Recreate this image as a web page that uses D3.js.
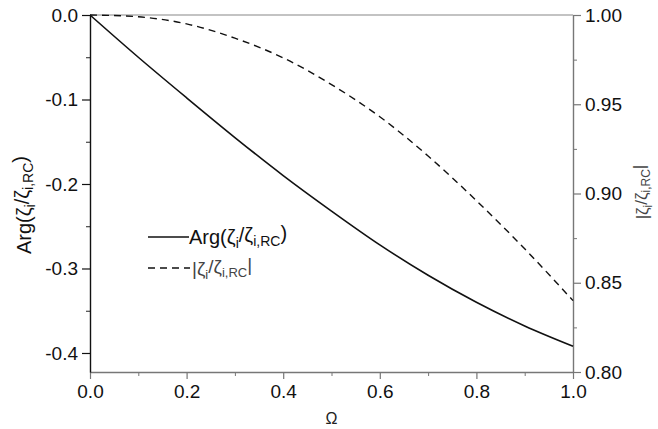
<!DOCTYPE html>
<html>
<head>
<meta charset="utf-8">
<script src="https://cdn.jsdelivr.net/npm/d3@7"></script>
<style>
  body { margin: 0; background: #fff; }
  svg { font-family: "Liberation Sans", Arial, sans-serif; }
</style>
</head>
<body>
<div id="chart"></div>
<script>
const omega   = [0, 0.1, 0.2, 0.3, 0.4, 0.5, 0.6, 0.7, 0.8, 0.9, 1.0];
const argVals = [0, -0.050, -0.098, -0.145, -0.190, -0.232, -0.272, -0.308, -0.340, -0.368, -0.392];
const magVals = [1.000, 0.999, 0.995, 0.987, 0.976, 0.961, 0.943, 0.921, 0.896, 0.869, 0.840];
const xTicks = [0, 0.2, 0.4, 0.6, 0.8, 1.0];
const leftTicks = [0, -0.1, -0.2, -0.3, -0.4];
const rightTicks = [1.00, 0.95, 0.90, 0.85, 0.80];

const width = 658, height = 429;
const L = 90, R = 573, T = 15, B = 372;

const svg = d3.select("#chart").append("svg")
  .attr("width", width)
  .attr("height", height);

const x = d3.scaleLinear().domain([0, 1]).range([L, R]);
const yL = d3.scaleLinear().domain([-0.4225, 0]).range([B, T]);
const yR = d3.scaleLinear().domain([0.80, 1.00]).range([B, T]);

// top frame line
svg.append("line")
  .attr("x1", L).attr("x2", R).attr("y1", T).attr("y2", T)
  .attr("stroke", "#888").attr("stroke-width", 1.2);

function styleAxis(g, color) {
  g.select(".domain").attr("stroke", color).attr("stroke-width", 1.4);
  g.selectAll(".tick line").attr("stroke", color).attr("stroke-width", 1.2);
  g.selectAll(".tick text").attr("fill", "#111").style("font-size", "19px");
}

// minor ticks
const xMinor = [0.1, 0.3, 0.5, 0.7, 0.9];
const leftMinor = [-0.05, -0.15, -0.25, -0.35];
const rightMinor = [0.975, 0.925, 0.875, 0.825];

svg.append("g")
  .attr("transform", `translate(0,${B})`)
  .call(d3.axisBottom(x).tickValues(xMinor).tickSize(4).tickFormat(""))
  .call(g => { g.select(".domain").remove(); g.selectAll("line").attr("stroke", "#777"); });
svg.append("g")
  .attr("transform", `translate(${L},0)`)
  .call(d3.axisLeft(yL).tickValues(leftMinor).tickSize(4).tickFormat(""))
  .call(g => { g.select(".domain").remove(); g.selectAll("line").attr("stroke", "#222"); });
svg.append("g")
  .attr("transform", `translate(${R},0)`)
  .call(d3.axisRight(yR).tickValues(rightMinor).tickSize(4).tickFormat(""))
  .call(g => { g.select(".domain").remove(); g.selectAll("line").attr("stroke", "#777"); });

// main axes
svg.append("g")
  .attr("transform", `translate(0,${B})`)
  .call(d3.axisBottom(x).tickValues(xTicks).tickSize(7).tickSizeOuter(0).tickPadding(6).tickFormat(d => d.toFixed(1)))
  .call(g => styleAxis(g, "#777"));

svg.append("g")
  .attr("transform", `translate(${R},0)`)
  .call(d3.axisRight(yR).tickValues(rightTicks).tickSize(8).tickSizeOuter(0).tickPadding(4).tickFormat(d => d.toFixed(2)))
  .call(g => styleAxis(g, "#777"));

svg.append("g")
  .attr("transform", `translate(${L},0)`)
  .call(d3.axisLeft(yL).tickValues(leftTicks).tickSize(8).tickSizeOuter(0).tickPadding(4).tickFormat(d => d.toFixed(1)))
  .call(g => styleAxis(g, "#111"));

// curves
const solid = d3.line().x((d, i) => x(omega[i])).y(d => yL(d)).curve(d3.curveMonotoneX);
const dashed = d3.line().x((d, i) => x(omega[i])).y(d => yR(d)).curve(d3.curveMonotoneX);

svg.append("path")
  .attr("d", solid(argVals))
  .attr("fill", "none").attr("stroke", "#111").attr("stroke-width", 1.6);

svg.append("path")
  .attr("d", dashed(magVals))
  .attr("fill", "none").attr("stroke", "#111").attr("stroke-width", 1.4)
  .attr("stroke-dasharray", "7,5");

// zeta label helper
function zetaLabel(t, size, pre, post) {
  const sub = Math.round(size * 0.68);
  t.append("tspan").text(pre);
  t.append("tspan").text("ζ");
  t.append("tspan").text("i").style("font-size", sub + "px").attr("dy", "0.3em");
  t.append("tspan").text("/").attr("dy", "-0.3em");
  t.append("tspan").text("ζ");
  t.append("tspan").text("i,RC").style("font-size", sub + "px").attr("dy", "0.3em");
  t.append("tspan").text(post).attr("dy", "-0.3em");
}

// y axis titles
const leftTitle = svg.append("text")
  .attr("transform", `translate(31,205) rotate(-90)`)
  .attr("text-anchor", "middle")
  .style("font-size", "20px").attr("fill", "#111");
zetaLabel(leftTitle, 20, "Arg(", ")");

const rightTitle = svg.append("text")
  .attr("transform", `translate(648,192) rotate(-90)`)
  .attr("text-anchor", "middle")
  .style("font-size", "17px").attr("fill", "#444");
zetaLabel(rightTitle, 17, "|", "|");

// x title
svg.append("text")
  .attr("x", (L + R) / 2).attr("y", 424)
  .attr("text-anchor", "middle")
  .style("font-size", "16px").attr("fill", "#222")
  .text("Ω");

// legend
svg.append("line")
  .attr("x1", 148).attr("x2", 189).attr("y1", 237).attr("y2", 237)
  .attr("stroke", "#111").attr("stroke-width", 1.6);
const leg1 = svg.append("text")
  .attr("x", 189).attr("y", 244)
  .style("font-size", "20px").attr("fill", "#111");
zetaLabel(leg1, 20, "Arg(", ")");

svg.append("line")
  .attr("x1", 148).attr("x2", 190).attr("y1", 268).attr("y2", 268)
  .attr("stroke", "#111").attr("stroke-width", 1.4)
  .attr("stroke-dasharray", "7,5");
const leg2 = svg.append("text")
  .attr("x", 192).attr("y", 275)
  .style("font-size", "19px").attr("fill", "#444");
zetaLabel(leg2, 19, "|", "|");
</script>
</body>
</html>
